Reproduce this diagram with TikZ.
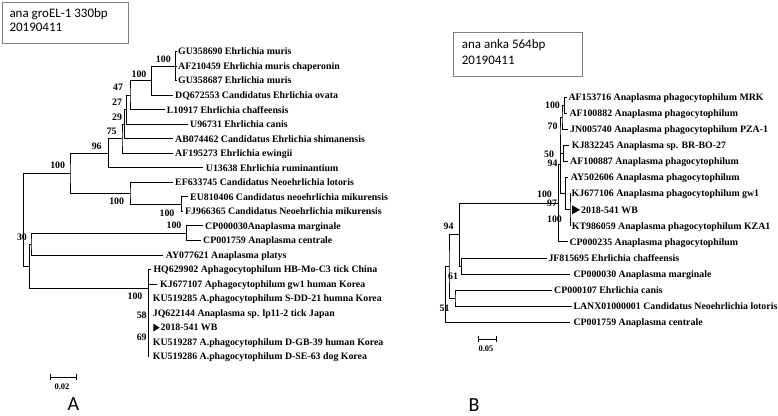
\documentclass[tikz,border=0pt]{standalone}
\usepackage{fontspec}
\setmainfont{Liberation Serif}
\newfontfamily\ttlfont{Carlito}
\newcommand\lf[5]{\coordinate (#1) at (#2,#3); \node[lbl] (#1t) at (#4,#3) {#5};}
\newcommand\tj[3]{\draw[br] (#2) -| (#1) |- (#3);}
\begin{document}
\begin{tikzpicture}[x=1pt,y=-1pt,
  br/.style={line width=1pt},
  lbl/.style={font=\fontsize{9.85}{10}\selectfont\bfseries, anchor=west, inner sep=0pt, text height=6.5pt, text depth=0pt},
  bs/.style={font=\fontsize{9.85}{10}\selectfont\bfseries, inner sep=0pt, text height=6.5pt, text depth=0pt},
  sc/.style={font=\fontsize{8.5}{9}\selectfont\bfseries, inner sep=0pt, text height=5.6pt, text depth=0pt},
  ttl/.style={font=\ttlfont\fontsize{13}{14}\selectfont, anchor=west, inner sep=0pt},
  box/.style={draw=gray, line width=0.7pt, anchor=north west, inner sep=0pt},
  pan/.style={font=\ttlfont\fontsize{20}{21}\selectfont, inner sep=0pt, text height=13pt, text depth=0pt},
  mk/.style={fill=black}]
\useasboundingbox (0,0) rectangle (778,415);
% ---------------- Panel A ----------------
\node[box, minimum width=126.6pt, minimum height=41.6pt] (boxA) at (1.7,1.7) {};
\node[ttl] (tA1) at (9.3,14.6) {ana groEL-1 330bp};
\node[ttl] (tA2) at (9.3,27.4) {20190411};
\lf{gu1}{177}{51.7}{178}{GU358690 Ehrlichia muris}
\lf{af21}{177}{66.2}{178}{AF210459 Ehrlichia muris chaperonin}
\lf{gu2}{177}{80.7}{178}{GU358687 Ehrlichia muris}
\lf{dq}{173}{95.3}{175}{DQ672553 Candidatus Ehrlichia ovata}
\lf{l10}{165}{109.8}{166.7}{L10917 Ehrlichia chaffeensis}
\lf{u96}{188}{124.3}{190}{U96731 Ehrlichia canis}
\lf{ab}{173}{138.8}{175}{AB074462 Candidatus Ehrlichia shimanensis}
\lf{af19}{173}{153.3}{175}{AF195273 Ehrlichia ewingii}
\lf{u13}{203}{167.9}{205.7}{U13638 Ehrlichia ruminantium}
\lf{ef}{173}{182.4}{175}{EF633745 Candidatus Neoehrlichia lotoris}
\lf{eu}{188}{196.9}{190}{EU810406 Candidatus neoehrlichia mikurensis}
\lf{fj}{183}{211.4}{185}{FJ966365 Candidatus Neoehrlichia mikurensis}
\lf{cpa}{203}{225.9}{205}{CP000030Anaplasma marginale}
\lf{cpb}{201}{240.5}{203}{CP001759 Anaplasma centrale}
\lf{ay}{163}{255.0}{165.7}{AY077621 Anaplasma platys}
\lf{hq}{151}{269.5}{153.3}{HQ629902 Aphagocytophilum HB-Mo-C3 tick China}
\lf{kj}{157}{284.0}{160}{KJ677107 Aphagocytophilum gw1 human Korea}
\lf{ku5}{148.3}{298.5}{152.7}{KU519285 A.phagocytophilum S-DD-21 humna Korea}
\lf{jq}{148.3}{313.1}{152.7}{JQ622144 Anaplasma sp. lp11-2 tick Japan}
\lf{wb}{148.3}{327.6}{160.5}{2018-541 WB}
\lf{ku7}{148.3}{342.1}{152.7}{KU519287 A.phagocytophilum D-GB-39 human Korea}
\lf{ku6}{148.3}{356.6}{152.7}{KU519286 A.phagocytophilum D-SE-63 dog Korea}
\fill[mk] (153.3,323.6) -- (159.6,327.6) -- (153.3,331.6) -- cycle;
% internal nodes
\coordinate (M) at (175.7,66.2);
\coordinate (N100b) at (151.7,80.75);
\coordinate (N47) at (130,95.3);
\coordinate (N27) at (126.7,109.8);
\coordinate (N29) at (124.3,124.3);
\coordinate (N75) at (122,138.8);
\coordinate (N96) at (108.3,153.3);
\coordinate (Miku) at (181.7,204.15);
\coordinate (Neo) at (130,193.3);
\coordinate (N100c) at (70,173.3);
\coordinate (Marg) at (186.7,233.2);
\coordinate (Apl) at (31,244.1);
\coordinate (P) at (148.3,288.3);
\coordinate (N30) at (29.3,266.2);
\coordinate (RootA) at (23.3,219.75);
\tj{M}{gu1}{gu2}
\draw[br] (M) -- (af21);
\tj{N100b}{M}{dq}
\tj{N47}{N100b}{l10}
\tj{N27}{N47}{u96}
\tj{N29}{N27}{ab}
\tj{N75}{N29}{af19}
\tj{N96}{N75}{u13}
\tj{Miku}{eu}{fj}
\tj{Neo}{ef}{Miku}
\tj{N100c}{N96}{Neo}
\tj{Marg}{cpa}{cpb}
\tj{Apl}{Marg}{ay}
\tj{P}{hq}{ku6}
\draw[br] (P|-kj) -- (kj);
\tj{N30}{Apl}{P}
\tj{RootA}{N100c}{N30}
% bootstrap A
\node[bs] (bA1) at (163.3,59) {100};
\node[bs] (bA2) at (139,74) {100};
\node[bs] (bA3) at (118,87.7) {47};
\node[bs] (bA4) at (117,102.7) {27};
\node[bs] (bA5) at (117,117) {29};
\node[bs] (bA6) at (111.7,131.7) {75};
\node[bs] (bA7) at (96.7,146) {96};
\node[bs] (bA8) at (57.7,165.7) {100};
\node[bs] (bA9) at (116.7,201.7) {100};
\node[bs] (bA10) at (167,213.3) {100};
\node[bs] (bA11) at (174,225.5) {100};
\node[bs] (bA12) at (22,237) {30};
\node[bs] (bA13) at (135,296.7) {100};
\node[bs] (bA14) at (141.7,315) {58};
\node[bs] (bA15) at (141.7,337) {69};
% scale A
\coordinate (sa1) at (50,377.3);
\coordinate (sa2) at (76.7,377.3);
\draw[br] (sa1) -- (sa2);
\draw[br] ([yshift=3pt]sa1) -- ([yshift=-3pt]sa1);
\draw[br] ([yshift=3pt]sa2) -- ([yshift=-3pt]sa2);
\node[sc] (scA) at (62,387) {0.02};
\node[pan] (pA) at (73.3,403.5) {A};
% ---------------- Panel B ----------------
\node[box, minimum width=128.4pt, minimum height=43.4pt] (boxB) at (453.3,32.3) {};
\node[ttl] (tB1) at (461.7,45.3) {ana anka 564bp};
\node[ttl] (tB2) at (461.7,60.3) {20190411};
\lf{r1}{566.5}{97.3}{568.3}{AF153716 Anaplasma phagocytophilum MRK}
\lf{r2}{566.5}{113.4}{569.3}{AF100882 Anaplasma phagocytophilum}
\lf{r3}{568}{129.4}{570}{JN005740 Anaplasma phagocytophilum PZA-1}
\lf{r4}{568.5}{145.5}{571.7}{KJ832245 Anaplasma sp. BR-BO-27}
\lf{r5}{568}{161.6}{570}{AF100887 Anaplasma phagocytophilum}
\lf{r6}{568}{177.7}{570.7}{AY502606 Anaplasma phagocytophilum}
\lf{r7}{571}{193.7}{571.5}{KJ677106 Anaplasma phagocytophilum gw1}
\lf{r8}{570}{209.8}{581}{2018-541 WB}
\lf{r9}{571}{225.9}{571.7}{KT986059 Anaplasma phagocytophilum KZA1}
\lf{r10}{568}{241.9}{569.3}{CP000235 Anaplasma phagocytophilum}
\lf{r11}{546.7}{258.0}{548.3}{JF815695 Ehrlichia chaffeensis}
\lf{r12}{570}{274.1}{573.3}{CP000030 Anaplasma marginale}
\lf{r13}{551.7}{290.1}{554}{CP000107 Ehrlichia canis}
\lf{r14}{571.7}{306.2}{573.3}{LANX01000001 Candidatus Neoehrlichia lotoris}
\lf{r15}{570}{322.3}{573.3}{CP001759 Anaplasma centrale}
\fill[mk] (572,205.3) -- (580,209.8) -- (572,214.3) -- cycle;
\coordinate (n100a) at (564.5,105.35);
\coordinate (n70) at (562,117.4);
\coordinate (n50) at (563.3,153.55);
\coordinate (n94) at (560,135.5);
\coordinate (G) at (570,209.8);
\coordinate (F) at (565.5,193.75);
\coordinate (D) at (560.5,164.6);
\coordinate (C) at (558.5,203.25);
\coordinate (J) at (461.7,266.05);
\coordinate (N94) at (459.3,234.65);
\coordinate (K) at (455,298.15);
\coordinate (N61) at (449,266.4);
\coordinate (RootB) at (445.7,294.35);
\tj{n100a}{r1}{r2}
\tj{n70}{n100a}{r3}
\tj{n50}{r4}{r5}
\tj{n94}{n70}{n50}
\tj{G}{r7}{r9}
\draw[br] (G) -- (r8);
\tj{F}{r6}{G}
\tj{D}{n94}{F}
\tj{C}{D}{r10}
\tj{J}{r11}{r12}
\tj{N94}{C}{J}
\tj{K}{r13}{r14}
\tj{N61}{N94}{K}
\tj{RootB}{N61}{r15}
% bootstrap B
\node[bs] (bB1) at (552.5,105.7) {100};
\node[bs] (bB2) at (552.5,126.5) {70};
\node[bs] (bB3) at (549,154.3) {50};
\node[bs] (bB4) at (552.5,163.5) {94};
\node[bs] (bB5) at (544.5,194.5) {100};
\node[bs] (bB6) at (552,203.5) {97};
\node[bs] (bB7) at (554.5,219.5) {100};
\node[bs] (bB8) at (448.5,226.7) {94};
\node[bs] (bB9) at (453,276) {61};
\node[bs] (bB10) at (444.5,308) {51};
% scale B
\coordinate (sb1) at (478.3,339.3);
\coordinate (sb2) at (496.7,339.3);
\draw[br] (sb1) -- (sb2);
\draw[br] ([yshift=3pt]sb1) -- ([yshift=-3pt]sb1);
\draw[br] ([yshift=3pt]sb2) -- ([yshift=-3pt]sb2);
\node[sc] (scB) at (486,349) {0.05};
\node[pan] (pB) at (474,405) {B};
\end{tikzpicture}
\end{document}
